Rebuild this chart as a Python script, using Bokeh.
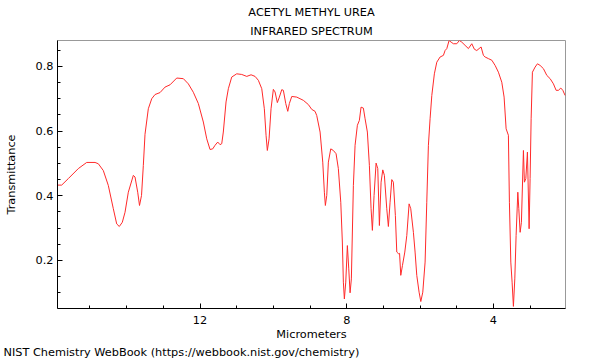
from bokeh.plotting import figure
from bokeh.models import Range1d, FixedTicker, Title
from bokeh.embed import file_html
from bokeh.resources import INLINE

title_main = "ACETYL METHYL UREA"
title_sub = "INFRARED SPECTRUM"
x_label = "Micrometers"
y_label = "Transmittance"
footer = "NIST Chemistry WebBook (https://webbook.nist.gov/chemistry)"

x_major = [4, 8, 12]
x_minor = list(range(2, 16))
y_major = [0.2, 0.4, 0.6, 0.8]
y_minor = [round(0.05 * i, 2) for i in range(1, 18)]

micrometers = [
    15.881, 15.772, 15.592, 15.319, 15.090, 14.863, 14.773, 14.637, 14.501, 14.364,
    14.272, 14.201, 14.119, 14.045, 13.955, 13.819, 13.773, 13.699, 13.650, 13.595,
    13.546, 13.500, 13.410, 13.317, 13.227, 13.091, 12.954, 12.818, 12.635, 12.455,
    12.319, 12.183, 12.046, 11.910, 11.817, 11.727, 11.654, 11.591, 11.517, 11.455,
    11.408, 11.365, 11.291, 11.228, 11.136, 11.000, 10.863, 10.726, 10.609, 10.500,
    10.410, 10.317, 10.247, 10.200, 10.165, 10.118, 10.064, 10.001, 9.955, 9.892,
    9.837, 9.772, 9.728, 9.663, 9.608, 9.565, 9.499, 9.363, 9.183, 9.047,
    8.954, 8.864, 8.818, 8.727, 8.654, 8.610, 8.583, 8.545, 8.501, 8.436,
    8.365, 8.291, 8.229, 8.163, 8.120, 8.092, 8.065, 8.027, 7.983, 7.945,
    7.909, 7.874, 7.819, 7.773, 7.710, 7.656, 7.610, 7.547, 7.500, 7.438,
    7.383, 7.337, 7.301, 7.255, 7.200, 7.154, 7.110, 7.064, 7.018, 6.974,
    6.909, 6.865, 6.819, 6.772, 6.729, 6.674, 6.636, 6.592, 6.560, 6.527,
    6.482, 6.417, 6.363, 6.300, 6.255, 6.183, 6.137, 6.091, 6.028, 5.981,
    5.927, 5.864, 5.818, 5.774, 5.728, 5.681, 5.611, 5.545, 5.455, 5.365,
    5.319, 5.272, 5.210, 5.155, 5.092, 5.000, 4.929, 4.864, 4.774, 4.683,
    4.591, 4.520, 4.455, 4.392, 4.337, 4.274, 4.228, 4.138, 4.045, 3.955,
    3.865, 3.773, 3.710, 3.655, 3.593, 3.565, 3.527, 3.492, 3.456, 3.418,
    3.383, 3.336, 3.309, 3.273, 3.238, 3.183, 3.156, 3.118, 3.074, 3.028,
    3.001, 2.973, 2.938, 2.864, 2.801, 2.728, 2.638, 2.545, 2.455, 2.365,
    2.292, 2.229, 2.164, 2.109, 2.046,
]

transmittance = [
    0.433, 0.433, 0.453, 0.484, 0.503, 0.503, 0.499, 0.478, 0.432, 0.360,
    0.313, 0.305, 0.318, 0.349, 0.411, 0.463, 0.458, 0.411, 0.370, 0.401,
    0.494, 0.590, 0.669, 0.700, 0.713, 0.719, 0.736, 0.743, 0.764, 0.762,
    0.746, 0.720, 0.685, 0.628, 0.576, 0.543, 0.545, 0.556, 0.566, 0.558,
    0.561, 0.597, 0.690, 0.731, 0.767, 0.777, 0.775, 0.769, 0.774, 0.769,
    0.757, 0.731, 0.669, 0.587, 0.540, 0.576, 0.669, 0.729, 0.721, 0.688,
    0.705, 0.728, 0.726, 0.685, 0.661, 0.685, 0.707, 0.705, 0.695, 0.682,
    0.667, 0.661, 0.648, 0.597, 0.504, 0.411, 0.370, 0.401, 0.504, 0.545,
    0.540, 0.530, 0.484, 0.380, 0.257, 0.133, 0.081, 0.133, 0.246, 0.174,
    0.100, 0.143, 0.432, 0.556, 0.618, 0.633, 0.674, 0.671, 0.638, 0.597,
    0.494, 0.360, 0.293, 0.401, 0.501, 0.484, 0.308, 0.442, 0.480, 0.463,
    0.360, 0.305, 0.380, 0.450, 0.442, 0.339, 0.226, 0.221, 0.222, 0.154,
    0.184, 0.226, 0.277, 0.375, 0.360, 0.287, 0.226, 0.154, 0.102, 0.073,
    0.102, 0.195, 0.380, 0.556, 0.638, 0.710, 0.777, 0.813, 0.829, 0.834,
    0.849, 0.855, 0.880, 0.875, 0.870, 0.870, 0.880, 0.875, 0.865, 0.855,
    0.870, 0.853, 0.849, 0.855, 0.860, 0.834, 0.829, 0.824, 0.819, 0.803,
    0.782, 0.751, 0.705, 0.607, 0.587, 0.380, 0.195, 0.133, 0.058, 0.143,
    0.277, 0.411, 0.360, 0.287, 0.318, 0.540, 0.442, 0.453, 0.535, 0.298,
    0.453, 0.638, 0.782, 0.798, 0.808, 0.803, 0.793, 0.772, 0.762, 0.746,
    0.726, 0.726, 0.733, 0.726, 0.710,
]

FONT = "DejaVu Sans"
FS = "11.3px"

p = figure(width=600, height=360, output_backend="svg", toolbar_location=None,
           x_range=Range1d(15.886, 2.036), y_range=Range1d(0.0515, 0.880),
           min_border_left=57, min_border_right=35, min_border_top=40,
           min_border_bottom=52, title=None)

p.line(micrometers, transmittance, line_color="#ff2a2a", line_width=1)

p.grid.visible = False
p.background_fill_color = "white"
p.border_fill_color = "white"
p.outline_line_color = "#999999"
p.outline_line_width = 1

p.xaxis.ticker = FixedTicker(ticks=x_major, minor_ticks=x_minor)
p.yaxis.ticker = FixedTicker(ticks=y_major, minor_ticks=y_minor)

for ax in (p.xaxis[0], p.yaxis[0]):
    ax.axis_line_color = "black"
    ax.axis_line_width = 1
    ax.major_tick_line_color = "black"
    ax.minor_tick_line_color = "black"
    ax.major_tick_in = 5
    ax.major_tick_out = 0
    ax.minor_tick_in = 3
    ax.minor_tick_out = 0
    ax.major_label_text_font = FONT
    ax.major_label_text_font_size = FS
    ax.major_label_text_color = "black"
    ax.axis_label_text_font = FONT
    ax.axis_label_text_font_size = FS
    ax.axis_label_text_font_style = "normal"
    ax.axis_label_text_color = "black"

p.xaxis.axis_label = x_label
p.xaxis.major_label_standoff = 7
p.xaxis.axis_label_standoff = 1
p.yaxis.axis_label = y_label
p.yaxis.major_label_standoff = 4
p.yaxis.axis_label_standoff = 15

p.add_layout(Title(text=title_sub, align="center", text_font=FONT, text_font_size=FS,
                   text_font_style="normal", text_color="black", standoff=6), "above")
p.add_layout(Title(text=title_main, align="center", text_font=FONT, text_font_size=FS,
                   text_font_style="normal", text_color="black", standoff=2), "above")
p.add_layout(Title(text=footer, align="left", offset=-54, text_font=FONT, text_font_size=FS,
                   text_font_style="normal", text_color="black", standoff=0), "below")

open("out.html", "w").write(file_html(p, INLINE))
